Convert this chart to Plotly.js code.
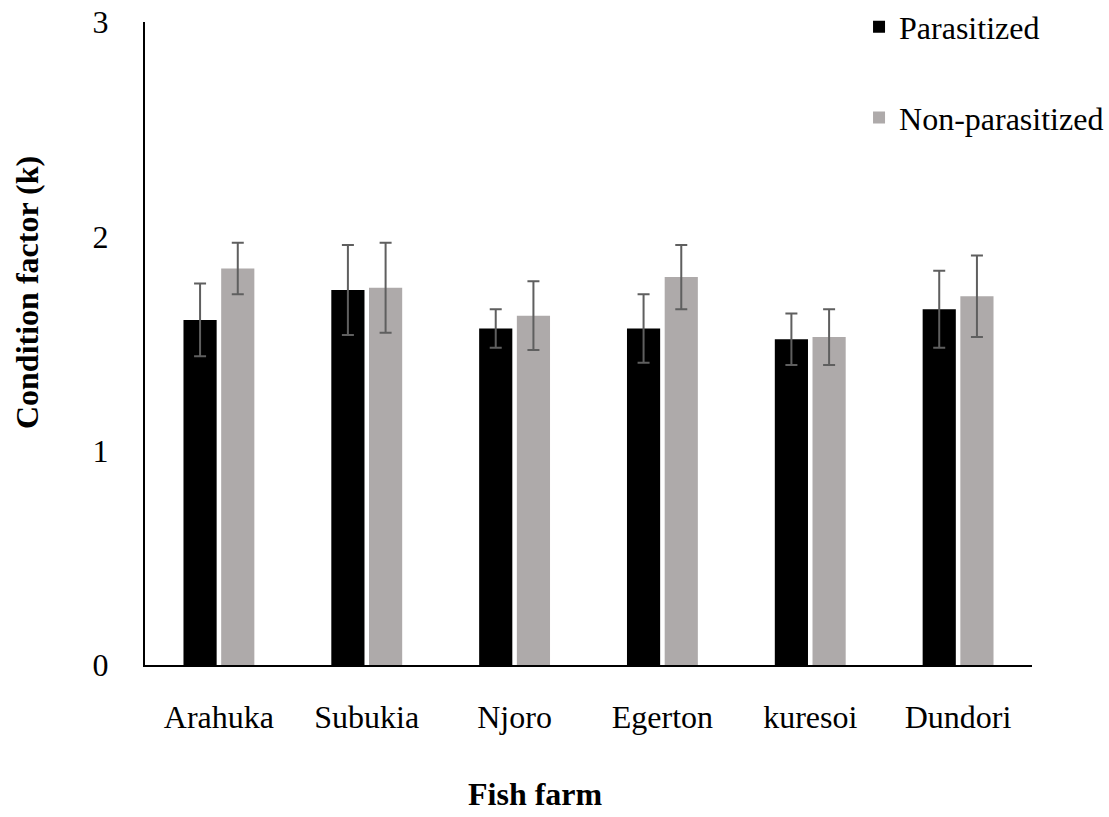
<!DOCTYPE html>
<html>
<head>
<meta charset="utf-8">
<script src="https://cdn.plot.ly/plotly-3.0.1.min.js"></script>
<style>html,body{margin:0;padding:0;background:#fff;}#chart{width:1109px;height:817px;}</style>
</head>
<body>
<div id="chart"></div>
<script>
const farms = ["Arahuka", "Subukia", "Njoro", "Egerton", "kuresoi", "Dundori"];
const parasitized = [1.61, 1.75, 1.57, 1.57, 1.52, 1.66];
const parasitizedErr = [0.17, 0.21, 0.09, 0.16, 0.12, 0.18];
const nonParasitized = [1.85, 1.76, 1.63, 1.81, 1.53, 1.72];
const nonParasitizedErr = [0.12, 0.21, 0.16, 0.15, 0.13, 0.19];
const yTicks = [0, 1, 2, 3];

const font = "Liberation Serif";
const errStyle = {type: 'data', visible: true, color: '#5f5f5f', thickness: 2, width: 6};

const traces = [
  {type: 'bar', name: 'Parasitized', x: farms, y: parasitized,
   error_y: Object.assign({array: parasitizedErr}, errStyle),
   marker: {color: '#000000'}, legendgroup: 'a'},
  {type: 'bar', name: 'Non-parasitized', x: farms, y: nonParasitized,
   error_y: Object.assign({array: nonParasitizedErr}, errStyle),
   marker: {color: '#AEAAAA'}, legendgroup: 'b'}
];

const layout = {
  width: 1109, height: 817,
  margin: {l: 145, r: 77, t: 22, b: 152, autoexpand: false},
  paper_bgcolor: '#ffffff', plot_bgcolor: '#ffffff',
  font: {family: font, size: 32, color: '#000'},
  barmode: 'group', bargap: 0.49, bargroupgap: 0.12,
  xaxis: {
    showline: true, linecolor: '#000', linewidth: 2, showgrid: false,
    ticks: '', ticklabelstandoff: 23, tickfont: {family: font, size: 32, color: '#000'},
    zeroline: false
  },
  yaxis: {
    range: [0, 3], tickvals: yTicks, showline: true, linecolor: '#000', linewidth: 2,
    showgrid: false, zeroline: false, ticks: '', ticklabelstandoff: 28,
    tickfont: {family: font, size: 32, color: '#000'}
  },
  legend: {
    x: 0.805, xanchor: 'left', y: 1.035, yanchor: 'top',
    font: {family: font, size: 32, color: '#000'},
    tracegroupgap: 46, bgcolor: 'rgba(0,0,0,0)'
  },
  annotations: [
    {text: '<b>Condition factor (k)</b>', xref: 'paper', yref: 'paper',
     x: -0.133, y: 0.5785, textangle: -90, showarrow: false,
     xanchor: 'center', yanchor: 'middle', font: {family: font, size: 32, color: '#000'}},
    {text: '<b>Fish farm</b>', xref: 'paper', yref: 'paper',
     x: 0.4397, y: -0.2, showarrow: false, xanchor: 'center', yanchor: 'middle',
     font: {family: font, size: 32, color: '#000'}}
  ]
};

Plotly.newPlot('chart', traces, layout, {displayModeBar: false, staticPlot: true});
</script>
</body>
</html>
